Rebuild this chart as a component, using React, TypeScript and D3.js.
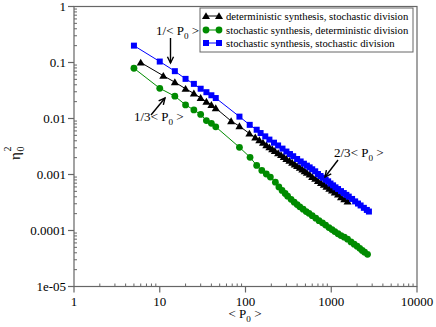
import * as d3 from 'd3';

// <P0> values and eta_0^2
const detP = [6, 11, 15, 20, 25, 30, 35, 40, 45, 68, 85, 111, 130, 145, 160, 175, 190, 205, 220, 240, 260, 280, 300, 325, 350, 375, 400, 430, 460, 490, 520, 560, 600, 650, 700, 760, 820, 880, 950, 1020, 1100, 1200, 1300, 1420, 1550];
const detEta = [0.1, 0.058, 0.0445, 0.034, 0.028, 0.0233, 0.02, 0.0175, 0.0153, 0.009, 0.0073, 0.0054, 0.0046, 0.0041, 0.0037, 0.00335, 0.00307, 0.00284, 0.00264, 0.00242, 0.00223, 0.00206, 0.00191, 0.00176, 0.00163, 0.00152, 0.00142, 0.00132, 0.00123, 0.00115, 0.00108, 0.001, 0.00091, 0.00084, 0.00077, 0.00071, 0.00066, 0.00061, 0.00056, 0.00052, 0.00048, 0.00044, 0.000395, 0.000362, 0.00033];

const stoDetP = [5, 10, 15, 20, 25, 30, 35, 40, 45, 85, 113, 135, 155, 175, 195, 223, 245, 267, 290, 310, 340, 370, 400, 430, 470, 510, 550, 600, 660, 720, 790, 860, 940, 1020, 1100, 1200, 1300, 1420, 1550, 1700, 1850, 2000, 2150, 2300, 2450, 2650];
const stoDetEta = [0.079, 0.0346, 0.025, 0.0175, 0.0142, 0.0118, 0.0092, 0.0082, 0.0071, 0.00306, 0.00203, 0.00145, 0.00118, 0.00102, 0.0009, 0.00073, 0.0006, 0.00052, 0.00046, 0.00041, 0.00036, 0.00032, 0.00029, 0.000265, 0.00024, 0.000218, 0.000203, 0.000184, 0.000166, 0.00015, 0.000137, 0.000125, 0.000113, 0.000104, 0.0000955, 0.0000875, 0.000081, 0.000076, 0.00007, 0.0000625, 0.000057, 0.0000525, 0.000048, 0.000044, 0.000041, 0.0000376];

const stoStoP = [5, 10, 15, 20, 25, 30, 35, 40, 45, 85, 112, 135, 150, 170, 190, 215, 240, 270, 300, 330, 360, 400, 440, 480, 520, 560, 600, 650, 700, 750, 800, 860, 920, 980, 1050, 1120, 1200, 1300, 1400, 1500, 1600, 1750, 1900, 2050, 2200, 2400, 2600, 2750];
const stoStoEta = [0.2, 0.104, 0.07, 0.051, 0.0415, 0.034, 0.0295, 0.026, 0.0232, 0.0108, 0.0077, 0.0063, 0.0055, 0.0048, 0.0042, 0.0037, 0.0033, 0.0029, 0.00257, 0.00232, 0.00212, 0.00189, 0.00171, 0.00156, 0.00144, 0.00134, 0.00124, 0.00114, 0.00102, 0.00094, 0.000875, 0.00081, 0.000755, 0.00069, 0.00064, 0.00059, 0.00055, 0.000505, 0.000466, 0.000433, 0.000403, 0.000366, 0.000331, 0.000303, 0.00028, 0.000254, 0.000233, 0.000218];

const legendLabels = [
  'deterministic synthesis, stochastic division',
  'stochastic synthesis, deterministic division',
  'stochastic synthesis, stochastic division',
];
const xTicks = [1, 10, 100, 1000, 10000];
const xTickLabels = ['1', '10', '100', '1000', '10000'];
const yTicks = [1, 0.1, 0.01, 0.001, 0.0001, 0.00001];
const yTickLabels = ['1', '0.1', '0.01', '0.001', '0.0001', '1e-05'];

const W = 436, H = 327;
const font = "'Liberation Serif', 'DejaVu Serif', serif";
const green = '#008b00';

const x = d3.scaleLog().domain([1, 10000]).range([74, 417]);
const y = d3.scaleLog().domain([1e-5, 1]).range([286.5, 6.5]);

const triPath = d3.symbol(d3.symbolTriangle, 28)()!;
const sqPath = d3.symbol(d3.symbolSquare, 36)()!;

function Marker({ kind, cx, cy }: { kind: string; cx: number; cy: number }) {
  if (kind === 'tri') return <path d={triPath} transform={`translate(${cx},${cy + 0.8})`} fill="#000" />;
  if (kind === 'sq') return <path d={sqPath} transform={`translate(${cx},${cy})`} fill="#0000ff" />;
  return <circle cx={cx} cy={cy} r={3.4} fill={green} />;
}

function Series({ ps, etas, color, kind }: { ps: number[]; etas: number[]; color: string; kind: string }) {
  const line = d3.line<number>().x((_, i) => x(ps[i])).y((d) => y(d));
  return (
    <g>
      <path d={line(etas)!} fill="none" stroke={color} strokeWidth={1} />
      {etas.map((e, i) => <Marker key={i} kind={kind} cx={x(ps[i])} cy={y(e)} />)}
    </g>
  );
}

function Arrow({ x1, y1, x2, y2 }: { x1: number; y1: number; x2: number; y2: number }) {
  const a = Math.atan2(y2 - y1, x2 - x1);
  const L = 7, s = 0.45;
  const p1 = [x2 - L * Math.cos(a - s), y2 - L * Math.sin(a - s)];
  const p2 = [x2 - L * Math.cos(a + s), y2 - L * Math.sin(a + s)];
  return (
    <g stroke="#000" strokeWidth={1.4} fill="none">
      <line x1={x1} y1={y1} x2={x2} y2={y2} />
      <polyline points={`${p1[0]},${p1[1]} ${x2},${y2} ${p2[0]},${p2[1]}`} />
    </g>
  );
}

function P0Label({ tx, ty, prefix, size = 13, anchor = 'start' }: { tx: number; ty: number; prefix: string; size?: number; anchor?: string }) {
  return (
    <text x={tx} y={ty} fontSize={size} textAnchor={anchor}>
      {prefix}&lt; P<tspan fontSize={size * 0.7} dy={4}>0</tspan><tspan dy={-4}> &gt;</tspan>
    </text>
  );
}

export default function App() {
  const minorX: number[] = [];
  const minorY: number[] = [];
  for (let d = 1; d < 10000; d *= 10) for (let k = 2; k < 10; k++) minorX.push(d * k);
  for (let d = 1e-5; d < 0.99; d *= 10) for (let k = 2; k < 10; k++) minorY.push(d * k);
  const [x0, x1] = x.range();
  const [yb, yt] = y.range();
  const legendY = [16, 30, 43];
  const legendKinds = ['tri', 'circ', 'sq'];
  const legendColors = ['#000', green, '#0000ff'];

  return (
    <svg width={W} height={H} style={{ position: 'absolute', left: 0, top: 0, background: '#fff', fontFamily: font }}>
      {/* frame */}
      <rect x={x0} y={yt} width={x1 - x0} height={yb - yt} fill="none" stroke="#666" strokeWidth={1.2} />
      {/* ticks */}
      {xTicks.map((t, i) => (
        <g key={'xt' + i}>
          <line x1={x(t)} x2={x(t)} y1={yb} y2={yb + 6} stroke="#666" strokeWidth={1.2} />
          <text x={x(t)} y={yb + 19} fontSize={13} textAnchor="middle">{xTickLabels[i]}</text>
        </g>
      ))}
      {minorX.map((t, i) => <line key={'xm' + i} x1={x(t)} x2={x(t)} y1={yb} y2={yb - 3} stroke="#666" strokeWidth={1} />)}
      {yTicks.map((t, i) => (
        <g key={'yt' + i}>
          <line x1={x0} x2={x0 - 6} y1={y(t)} y2={y(t)} stroke="#666" strokeWidth={1.2} />
          <text x={x0 - 8} y={y(t) + 4.5} fontSize={13} textAnchor="end">{yTickLabels[i]}</text>
        </g>
      ))}
      {minorY.map((t, i) => <line key={'ym' + i} x1={x0} x2={x0 + 3} y1={y(t)} y2={y(t)} stroke="#666" strokeWidth={1} />)}

      {/* axis labels */}
      <P0Label tx={245} ty={318} prefix="" anchor="middle" />
      <g transform="translate(20,160) rotate(-90)">
        <text x={0} y={0} fontSize={15}>η</text>
        <text x={8.5} y={4} fontSize={10}>0</text>
        <text x={8.5} y={-9} fontSize={10}>2</text>
      </g>

      {/* data */}
      <Series ps={detP} etas={detEta} color="#000" kind="tri" />
      <Series ps={stoDetP} etas={stoDetEta} color={green} kind="circ" />
      <Series ps={stoStoP} etas={stoStoEta} color="#0000ff" kind="sq" />

      {/* annotations */}
      <P0Label tx={156} ty={35} prefix="1/" />
      <Arrow x1={170.5} y1={38} x2={170.5} y2={63} />
      <P0Label tx={134} ty={121} prefix="1/3" />
      <Arrow x1={151} y1={115} x2={165} y2={98} />
      <P0Label tx={334} ty={157} prefix="2/3" />
      <Arrow x1={338} y1={160} x2={325} y2={177} />

      {/* legend */}
      <rect x={200} y={8} width={213} height={44} fill="#fff" stroke="#666" strokeWidth={1} />
      {legendLabels.map((l, i) => (
        <g key={'lg' + i}>
          <line x1={206} x2={219} y1={legendY[i]} y2={legendY[i]} stroke={legendColors[i]} strokeWidth={1} />
          <Marker kind={legendKinds[i]} cx={206} cy={legendY[i]} />
          <Marker kind={legendKinds[i]} cx={219} cy={legendY[i]} />
          <text x={226} y={legendY[i] + 3.5} fontSize={10.7}>{l}</text>
        </g>
      ))}
    </svg>
  );
}
